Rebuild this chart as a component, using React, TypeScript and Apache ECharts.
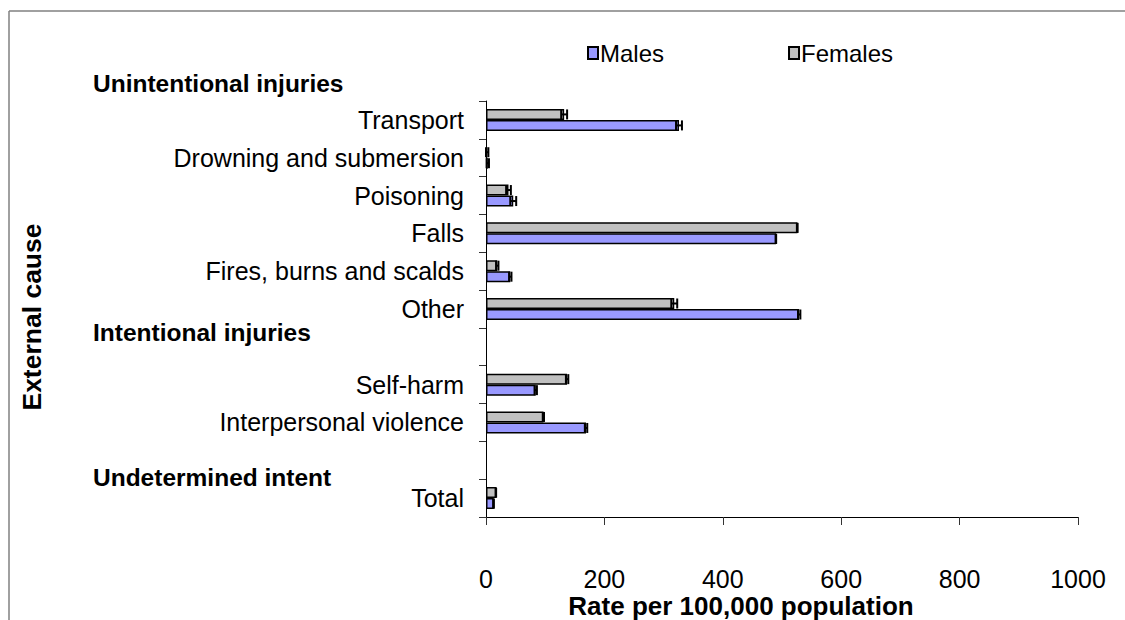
import React, { useEffect, useRef } from "react";
import * as echarts from "echarts";

const categories = [
  "Transport",
  "Drowning and submersion",
  "Poisoning",
  "Falls",
  "Fires, burns and scalds",
  "Other",
  "",
  "Self-harm",
  "Interpersonal violence",
  "",
  "Total",
];
const males = [326, 3, 46, 490, 41, 529, null, 84, 169, null, 13];
const malesErr = [5, 2, 5, 0, 2, 2, null, 2, 2, null, 0];
const females = [132, 2, 38, 526, 19, 318, null, 137, 97, null, 17];
const femalesErr = [5, 2, 4, 0, 2, 5, null, 2, 1, null, 0];
const xTicks = { min: 0, max: 1000, interval: 200 };
const headers = ["Unintentional injuries", "Intentional injuries", "Undetermined intent"];

const FONT = "'Liberation Sans', Arial, sans-serif";
const BAR_W = 11;

function errData(vals: (number | null)[], errs: (number | null)[]) {
  const out: any[] = [];
  vals.forEach((v, i) => {
    if (v == null) return;
    const e = errs[i] || 0;
    out.push([i, v - e, v + e]);
  });
  return out;
}

function errRender(offset: number) {
  return (params: any, api: any) => {
    const idx = api.value(0);
    const lo = api.coord([api.value(1), idx]);
    const hi = api.coord([api.value(2), idx]);
    const y = lo[1] + offset;
    const h = 5;
    const style = { stroke: "#000", lineWidth: 2 };
    return {
      type: "group",
      children: [
        { type: "line", shape: { x1: lo[0], y1: y, x2: hi[0], y2: y }, style },
        { type: "line", shape: { x1: lo[0], y1: y - h, x2: lo[0], y2: y + h }, style },
        { type: "line", shape: { x1: hi[0], y1: y - h, x2: hi[0], y2: y + h }, style },
      ],
    };
  };
}

export default function App() {
  const ref = useRef<HTMLDivElement>(null);
  useEffect(() => {
    if (!ref.current) return;
    const chart = echarts.init(ref.current, null, { renderer: "svg" });
    const option: any = {
      animation: false,
      backgroundColor: "#fff",
      textStyle: { fontFamily: FONT },
      legend: {
        data: ["Males", "Females"],
        left: 582,
        top: 36,
        itemWidth: 10,
        itemHeight: 12,
        itemGap: 124,
        icon: "rect",
        textStyle: { fontSize: 24, color: "#000", fontFamily: FONT, padding: [0, 0, 0, -3] },
      },
      grid: { left: 486, right: 47, top: 101, bottom: 103, containLabel: false },
      xAxis: {
        type: "value",
        min: xTicks.min,
        max: xTicks.max,
        interval: xTicks.interval,
        axisLine: { show: true, lineStyle: { color: "#000", width: 1 } },
        axisTick: { show: true, length: 8, lineStyle: { color: "#333" } },
        axisLabel: {
          fontSize: 25,
          color: "#000",
          margin: 49,
          fontFamily: FONT,
          formatter: (v: number) => String(v),
        },
        splitLine: { show: false },
      },
      yAxis: {
        type: "category",
        data: categories,
        inverse: true,
        axisLine: { show: true, lineStyle: { color: "#000", width: 1 } },
        axisTick: { show: true, length: 7, lineStyle: { color: "#333" } },
        axisLabel: { fontSize: 25, color: "#000", margin: 22, fontFamily: FONT },
      },
      series: [
        {
          name: "Females",
          type: "bar",
          data: females,
          barWidth: BAR_W,
          barGap: "0%",
          itemStyle: { color: "#C0C0C0", borderColor: "#000", borderWidth: 1.5 },
        },
        {
          name: "Males",
          type: "bar",
          data: males,
          barWidth: BAR_W,
          barGap: "0%",
          itemStyle: { color: "#9999FF", borderColor: "#000", borderWidth: 1.5 },
        },
        {
          type: "custom",
          name: "FemalesErr",
          data: errData(females, femalesErr),
          encode: { y: 0, x: [1, 2] },
          renderItem: errRender(-BAR_W / 2),
          z: 5,
        },
        {
          type: "custom",
          name: "MalesErr",
          data: errData(males, malesErr),
          encode: { y: 0, x: [1, 2] },
          renderItem: errRender(BAR_W / 2),
          z: 5,
        },
      ],
      graphic: [
        { type: "line", shape: { x1: 9, y1: 11, x2: 1125, y2: 11 }, style: { stroke: "#808080", lineWidth: 1.5 } },
        { type: "line", shape: { x1: 9, y1: 11, x2: 9, y2: 620 }, style: { stroke: "#808080", lineWidth: 1.5 } },
        {
          type: "text",
          left: 93,
          top: 71,
          style: { text: headers[0], font: `bold 24.5px ${FONT}`, fill: "#000" },
        },
        {
          type: "text",
          left: 93,
          top: 320,
          style: { text: headers[1], font: `bold 24.5px ${FONT}`, fill: "#000" },
        },
        {
          type: "text",
          left: 93,
          top: 465,
          style: { text: headers[2], font: `bold 24.5px ${FONT}`, fill: "#000" },
        },
        {
          type: "text",
          x: 741,
          y: 606,
          style: {
            text: "Rate per 100,000 population",
            font: `bold 26px ${FONT}`,
            fill: "#000",
            align: "center",
            verticalAlign: "middle",
          },
        },
        {
          type: "text",
          x: 32,
          y: 317,
          rotation: Math.PI / 2,
          style: {
            text: "External cause",
            font: `bold 26.5px ${FONT}`,
            fill: "#000",
            align: "center",
            verticalAlign: "middle",
          },
        },
      ],
    };
    chart.setOption(option);
    return () => chart.dispose();
  }, []);
  return (
    <div
      ref={ref}
      style={{ position: "absolute", left: 0, top: 0, width: 1125, height: 620, background: "#fff" }}
    />
  );
}
